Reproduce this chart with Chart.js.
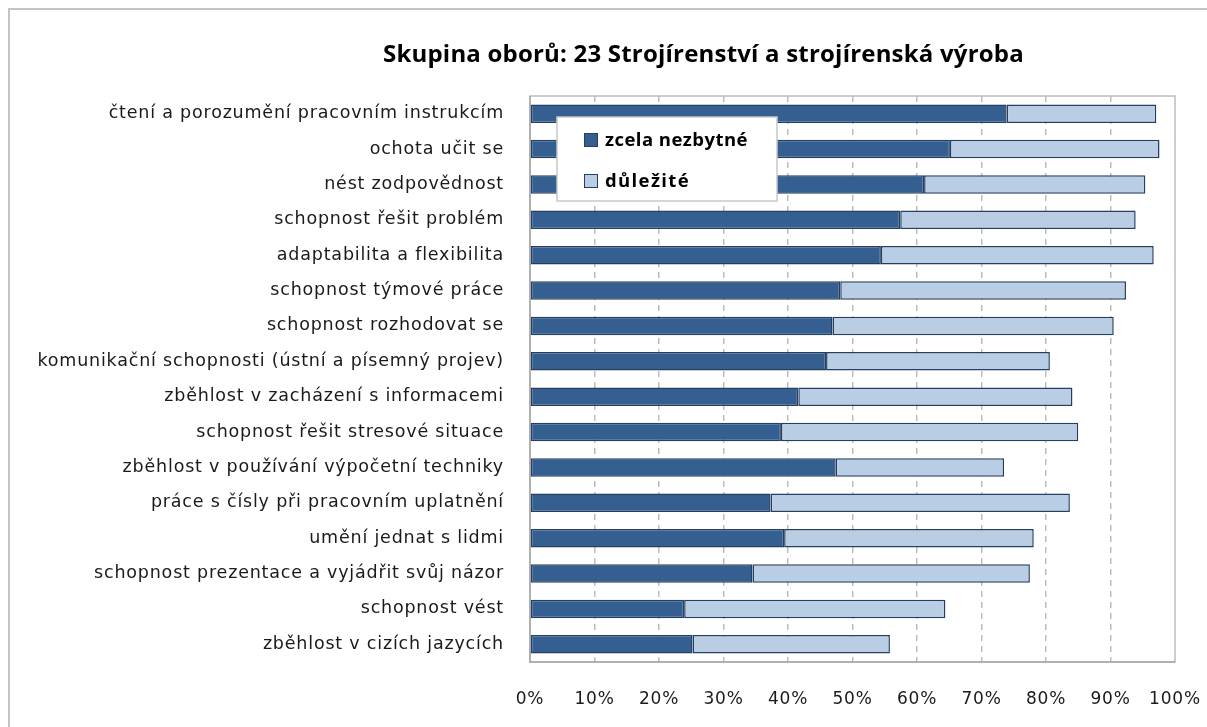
<!DOCTYPE html>
<html>
<head>
<meta charset="utf-8">
<script src="https://cdn.jsdelivr.net/npm/chart.js@4"></script>
<style>
html,body{margin:0;padding:0;background:#fff;}
#wrap{position:relative;width:1207px;height:727px;}
</style>
</head>
<body>
<div id="wrap"><canvas id="c" width="1207" height="727"></canvas></div>
<script>
const titleText = 'Skupina oborů: 23 Strojírenství a strojírenská výroba';
const categories = [
  'čtení a porozumění pracovním instrukcím',
  'ochota učit se',
  'nést zodpovědnost',
  'schopnost řešit problém',
  'adaptabilita a flexibilita',
  'schopnost týmové práce',
  'schopnost rozhodovat se',
  'komunikační schopnosti (ústní a písemný projev)',
  'zběhlost v zacházení s informacemi',
  'schopnost řešit stresové situace',
  'zběhlost v používání výpočetní techniky',
  'práce s čísly při pracovním uplatnění',
  'umění jednat s lidmi',
  'schopnost prezentace a vyjádřit svůj názor',
  'schopnost vést',
  'zběhlost v cizích jazycích'
];
const seriesNames = ['zcela nezbytné', 'důležité'];
const zcelaNezbytne = [73.9, 65.1, 61.1, 57.4, 54.4, 48.1, 46.9, 45.9, 41.6, 38.9, 47.4, 37.3, 39.4, 34.5, 23.9, 25.2];
const dulezite      = [23.2, 32.5, 34.3, 36.5, 42.3, 44.3, 43.6, 34.7, 42.5, 46.1, 26.1, 46.4, 38.7, 43.0, 40.5, 30.6];
const xTicks = [0, 10, 20, 30, 40, 50, 60, 70, 80, 90, 100];

const DARK = '#365f91';
const LIGHT = '#b9cde5';
const EDGE = '#243f60';
const AXIS_LS = '0.8px';

function fitText(ctx, text, x, y, width) {
  ctx.letterSpacing = '0px';
  const w = ctx.measureText(text).width;
  const n = Array.from(text).length;
  const ls = (width - w) / n;
  ctx.letterSpacing = ls.toFixed(2) + 'px';
  ctx.fillText(text, x, y);
}

const decor = {
  id: 'decor',
  beforeLayout(chart) { chart.ctx.letterSpacing = AXIS_LS; },
  beforeDraw(chart) {
    const ctx = chart.ctx;
    ctx.save();
    ctx.fillStyle = '#fff';
    ctx.fillRect(0, 0, chart.width, chart.height);
    ctx.strokeStyle = '#c4c4c4';
    ctx.lineWidth = 2;
    ctx.beginPath();
    ctx.moveTo(9, chart.height);
    ctx.lineTo(9, 9);
    ctx.lineTo(chart.width, 9);
    ctx.stroke();
    // title
    ctx.fillStyle = '#000';
    ctx.font = 'bold 24px "Open Sans"';
    ctx.textAlign = 'left';
    ctx.textBaseline = 'middle';
    fitText(ctx, titleText, 383, 55, 641);
    ctx.restore();
    ctx.letterSpacing = AXIS_LS;
  },
  beforeDatasetsDraw(chart) {
    const a = chart.chartArea;
    const ctx = chart.ctx;
    ctx.save();
    ctx.strokeStyle = '#bdbdbd';
    ctx.lineWidth = 1.5;
    ctx.strokeRect(a.left, a.top, a.right - a.left, a.bottom - a.top);
    ctx.strokeStyle = '#a6a6a6';
    ctx.beginPath();
    ctx.moveTo(a.left, a.top);
    ctx.lineTo(a.left, a.bottom);
    ctx.lineTo(a.right, a.bottom);
    ctx.stroke();
    ctx.restore();
  },
  afterDatasetsDraw(chart) {
    const ctx = chart.ctx;
    ctx.save();
    const bx = 557, by = 117, bw = 220, bh = 84;
    ctx.fillStyle = '#fff';
    ctx.fillRect(bx, by, bw, bh);
    ctx.strokeStyle = '#c8c8c8';
    ctx.lineWidth = 1.5;
    ctx.strokeRect(bx, by, bw, bh);
    const fills = [DARK, LIGHT];
    const ys = [140, 181];
    const widths = [143, 85];
    ctx.font = 'bold 18.5px "Open Sans"';
    ctx.textBaseline = 'middle';
    ctx.textAlign = 'left';
    chart.data.datasets.forEach((ds, i) => {
      ctx.fillStyle = fills[i];
      ctx.fillRect(584, ys[i] - 7, 14, 14);
      ctx.strokeStyle = EDGE;
      ctx.lineWidth = 1;
      ctx.strokeRect(584.5, ys[i] - 6.5, 13, 13);
      ctx.fillStyle = '#000';
      fitText(ctx, ds.label, 605, ys[i] + 1, widths[i]);
    });
    ctx.restore();
    ctx.letterSpacing = AXIS_LS;
  }
};

new Chart(document.getElementById('c'), {
  type: 'bar',
  data: {
    labels: categories,
    datasets: [
      { label: seriesNames[0], data: zcelaNezbytne, backgroundColor: DARK, borderColor: EDGE, borderWidth: 1.5, borderSkipped: false },
      { label: seriesNames[1], data: dulezite, backgroundColor: LIGHT, borderColor: EDGE, borderWidth: 1.5, borderSkipped: false }
    ]
  },
  options: {
    indexAxis: 'y',
    responsive: false,
    animation: false,
    events: [],
    layout: { padding: { left: 0, right: 32, top: 96, bottom: 0 } },
    plugins: {
      legend: { display: false },
      title: { display: false },
      tooltip: { enabled: false }
    },
    datasets: { bar: { barPercentage: 0.52, categoryPercentage: 1.0 } },
    scales: {
      x: {
        stacked: true,
        min: 0, max: 100,
        afterBuildTicks(scale) { scale.ticks = xTicks.map(v => ({ value: v })); },
        afterFit(scale) { scale.height = 65; scale.paddingLeft = 0; scale.paddingRight = 0; },
        ticks: {
          padding: 27,
          color: '#1a1a1a',
          font: { family: '"DejaVu Sans"', size: 17 },
          callback: v => v + '%',
          maxRotation: 0, autoSkip: false
        },
        grid: {
          drawTicks: false,
          color: c => (c.tick && (c.tick.value === 0 || c.tick.value === 100)) ? 'rgba(0,0,0,0)' : '#bdbdbd',
          lineWidth: 1.5
        },
        border: { display: false, dash: [6, 5] }
      },
      y: {
        stacked: true,
        afterFit(scale) { scale.width = 530; scale.paddingTop = 0; scale.paddingBottom = 0; },
        ticks: {
          padding: 26,
          color: '#1a1a1a',
          font: { family: '"DejaVu Sans"', size: 17.5 },
          autoSkip: false
        },
        grid: { display: false, drawTicks: false },
        border: { display: false }
      }
    }
  },
  plugins: [decor]
});
</script>
</body>
</html>
